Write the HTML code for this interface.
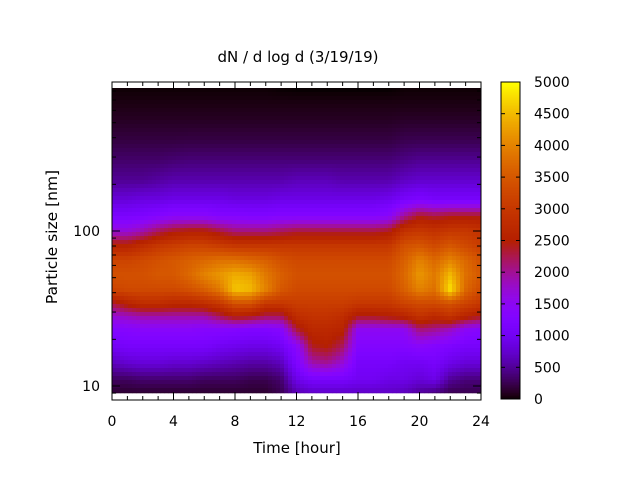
<!DOCTYPE html>
<html><head><meta charset="utf-8"><style>
html,body{margin:0;padding:0;background:#fff}
svg{display:block;font-family:"DejaVu Sans","Liberation Sans",sans-serif}
</style></head><body>
<svg id="chart" width="640" height="480" viewBox="0 0 640 480" xmlns="http://www.w3.org/2000/svg">
<text x="298" y="62" font-size="15" text-anchor="middle">dN / d log d (3/19/19)</text>
<text x="297" y="453" font-size="15" text-anchor="middle">Time [hour]</text>
<text x="57" y="237" font-size="15.5" text-anchor="middle" transform="rotate(-90 57 237)">Particle size [nm]</text>
<g id="cells"></g>
<g id="cbar"></g>
<g id="axes"></g>
</svg>
<script>
const times=[0,1,2,3,4,5,6,7,8,9,10,11,12,13,14,15,16,17,18,19,20,21,22,23,24];
const sizes=[9,11,14,18,23,28,34,42,52,65,80,100,125,160,210,280,370,500,650,830];
const r9  =[150,150,150,150,150,150,150,150,150,150,150,250,600,700,700,700,700,700,700,650,500,400,250,250,250];
const r11 =[300,300,350,350,350,350,300,300,300,250,250,350,900,1100,1100,1100,1000,1000,900,900,800,900,500,400,400];
const r14 =[650,750,800,800,750,750,700,650,600,550,550,650,1200,1900,2000,1700,1100,1100,1100,1000,1000,1100,900,800,800];
const r18 =[1000,1100,1100,1100,1100,1100,1100,1000,950,900,900,1000,1400,2400,2500,2200,1300,1300,1300,1300,1400,1300,1200,1100,1100];
const r23 =[1300,1350,1400,1400,1400,1400,1350,1350,1300,1250,1250,1350,2300,2700,2700,2600,1500,1500,1500,1500,2100,2000,1800,1450,1350];
const r28 =[1700,1800,1900,1900,1900,1900,1900,2200,2500,2400,2200,2200,2800,2900,2900,2800,2400,2400,2500,2600,2900,2700,2900,2600,2400];
const r34 =[2300,2600,2800,2800,2700,2700,2800,3000,3400,3400,3000,3000,3100,3100,3100,3100,3000,3000,3000,3200,3300,3300,3400,3200,3000];
const r42 =[3200,3300,3300,3300,3300,3400,3600,3900,4600,4500,4000,3500,3300,3300,3300,3300,3300,3300,3300,3600,4000,3800,4800,3700,3300];
const r52 =[3400,3400,3400,3500,3500,3700,4000,4200,4400,4300,3900,3600,3400,3400,3400,3400,3400,3400,3400,3700,4200,3900,4500,3800,3500];
const r65 =[3200,3200,3300,3400,3500,3600,3700,3800,3800,3700,3600,3400,3300,3300,3300,3300,3300,3300,3300,3600,4000,3700,4000,3700,3400];
const r80 =[2600,2600,2800,3000,3100,3200,3200,3100,3000,3000,3000,3000,3000,3000,3000,3000,3000,3000,3000,3400,3500,3300,3500,3300,3100];
const r100=[1700,1700,1900,2200,2400,2500,2500,2300,2100,2100,2100,2200,2300,2300,2300,2300,2300,2300,2400,2900,3000,2900,3000,3000,2900];
const r125=[1150,1150,1200,1300,1400,1400,1400,1300,1300,1250,1250,1300,1300,1300,1300,1300,1300,1300,1400,2000,2400,2300,2400,2400,2400];
const r160=[800,800,850,850,900,900,900,900,850,850,850,900,900,900,900,900,900,900,950,1100,1200,1100,1100,1100,1100];
const r210=[500,500,500,550,600,600,600,600,600,600,600,600,650,650,650,600,600,600,600,700,750,750,750,750,750];
const r280=[350,350,350,350,380,400,400,400,400,400,400,400,400,400,400,400,400,400,400,450,500,500,500,500,500];
const r370=[220,220,220,220,220,230,230,230,230,230,230,230,230,230,230,230,230,230,230,270,280,280,280,280,280];
const r500=[120,120,120,120,120,120,120,120,120,120,120,120,120,120,120,120,120,120,120,140,140,140,140,140,140];
const r650=[60,60,60,60,60,60,60,60,60,60,60,60,60,60,60,60,60,60,60,60,60,60,60,60,60];
const r830=[15,15,15,15,15,15,15,15,15,15,15,5,0,0,0,0,0,0,0,15,15,15,15,15,15];
const rows=[r9,r11,r14,r18,r23,r28,r34,r42,r52,r65,r80,r100,r125,r160,r210,r280,r370,r500,r650,r830];
const xTicks=[0,4,8,12,16,20,24];
const yTicks=[10,100];
const cbTicks=[0,500,1000,1500,2000,2500,3000,3500,4000,4500,5000];

const NS="http://www.w3.org/2000/svg";
const X0=112,X1=481,FT=82,FB=400;
const xs=t=>X0+(t-0)/24*(X1-X0);
const ys=d=>386-(Math.log10(d)-1)*155;
const CB0=501,CB1=520,CBT=82,CBB=399;
const cs=v=>CBB-v/5000*(CBB-CBT);
function col(v){let x=Math.max(0,Math.min(1,v/5000));
 const r=Math.sqrt(x),g=x*x*x,b=Math.max(0,Math.sin(2*Math.PI*x));
 return `rgb(${Math.round(r*255)},${Math.round(g*255)},${Math.round(b*255)})`;}
function mk(tag,attrs,parent){const e=document.createElementNS(NS,tag);for(const k in attrs)e.setAttribute(k,attrs[k]);parent.appendChild(e);return e;}
const cells=document.getElementById('cells');
const lt=sizes.map(s=>Math.log10(s));
function val(t,ls){
 let i=Math.min(times.length-2,Math.max(0,Math.floor(t)));
 let fi=Math.max(0,Math.min(1,t-times[i]));
 let j=0;while(j<lt.length-2&&ls>lt[j+1])j++;
 let fj=Math.max(0,Math.min(1,(ls-lt[j])/(lt[j+1]-lt[j])));
 const a=rows[j][i],b=rows[j][i+1],c=rows[j+1][i],d=rows[j+1][i+1];
 return (a*(1-fi)+b*fi)*(1-fj)+(c*(1-fi)+d*fi)*fj;}
const yTop=88, yBot=393;
const step=4;
for(let py=yTop;py<yBot;py+=step){
 for(let px=X0;px<X1;px+=step){
  const t=(px+step/2-X0)/(X1-X0)*24;
  const ls=1+(386-(py+step/2))/155;
  const r=mk('rect',{x:px,y:py,width:Math.min(step,X1-px)+0.3,height:Math.min(step,yBot-py)+0.3,fill:col(val(t,ls))},cells);
  
  
 }
}
const cb=document.getElementById('cbar');
for(let v=0;v<5000;v+=25){
 const r=mk('rect',{x:CB0,y:cs(v+25),width:CB1-CB0,height:(CBB-CBT)/200+0.4,fill:col(v+12.5)},cb);
 
 
}
mk('rect',{x:CB0,y:CBT,width:CB1-CB0,height:CBB-CBT,fill:'none',stroke:'#000','stroke-width':1},cb);
cbTicks.forEach(v=>{const y=cs(v);
 mk('line',{x1:CB0,x2:CB0+4,y1:y,y2:y,stroke:'#000'},cb);
 mk('line',{x1:CB1-4,x2:CB1,y1:y,y2:y,stroke:'#000'},cb);
 const t=mk('text',{x:534,y:y+5,'font-size':14},cb);t.textContent=v;
 
 
});
const ax=document.getElementById('axes');
mk('rect',{x:X0,y:FT,width:X1-X0,height:FB-FT,fill:'none',stroke:'#000','stroke-width':1},ax);
for(let h=0;h<=24;h++){const x=xs(h),L=(h%4==0)?8:4;
 mk('line',{x1:x,x2:x,y1:FB,y2:FB-L,stroke:'#000'},ax);
 mk('line',{x1:x,x2:x,y1:FT,y2:FT+L,stroke:'#000'},ax);}
xTicks.forEach(h=>{const t=mk('text',{x:xs(h),y:426,'font-size':14,'text-anchor':'middle'},ax);t.textContent=h;
 
 });
[9,10,20,30,40,50,60,70,80,90,100,200,300,400,500,600,700,800].forEach(d=>{const y=ys(d),L=(d==10||d==100)?8:4;
 if(y<FT||y>FB)return;
 mk('line',{x1:X0,x2:X0+L,y1:y,y2:y,stroke:'#000'},ax);
 mk('line',{x1:X1-L,x2:X1,y1:y,y2:y,stroke:'#000'},ax);});
yTicks.forEach(d=>{const t=mk('text',{x:100,y:ys(d)+5,'font-size':14,'text-anchor':'end'},ax);t.textContent=d;
 
 });
</script>
</body></html>
